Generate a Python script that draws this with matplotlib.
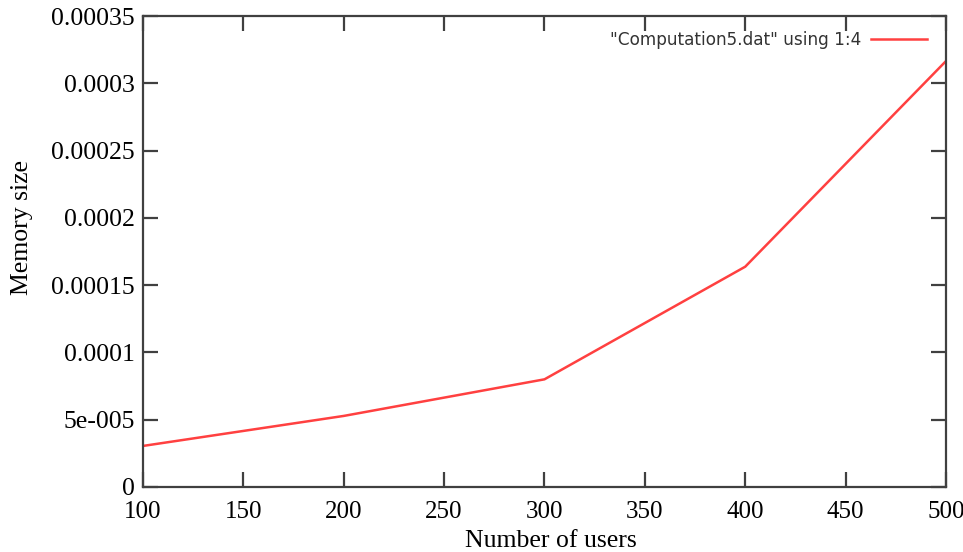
import matplotlib
matplotlib.use("Agg")
from matplotlib import pyplot as plt

users = [100, 200, 300, 400, 500]
memory = [3.05e-5, 5.28e-5, 8.0e-5, 1.637e-4, 3.165e-4]

xticks = [100, 150, 200, 250, 300, 350, 400, 450, 500]
yticks = [0, 0.00005, 0.0001, 0.00015, 0.0002, 0.00025, 0.0003, 0.00035]
ytick_labels = ["0", "5e-005", "0.0001", "0.00015", "0.0002", "0.00025", "0.0003", "0.00035"]

fig = plt.figure(figsize=(9.63, 5.52), dpi=100)
ax = fig.add_axes([0.1485, 0.1178, 0.8338, 0.8532])

ax.plot(users, memory, c="#ff4040", lw=1.8, label='"Computation5.dat" using 1:4')

ax.set_xlim(100, 500)
ax.set_ylim(0, 0.00035)
ax.set_xticks(xticks)
ax.set_xticklabels([str(t) for t in xticks])
ax.set_yticks(yticks)
ax.set_yticklabels(ytick_labels)

for s in ax.spines.values():
    s.set_color("#404040")
    s.set_linewidth(1.6)
ax.tick_params(axis="both", direction="in", length=11, width=1.6, color="#404040",
               top=True, right=True, labelsize=18.5)
ax.tick_params(axis="x", pad=10, labelsize=18)
ax.tick_params(axis="y", pad=6)
for lab in ax.get_xticklabels() + ax.get_yticklabels():
    lab.set_fontfamily("Liberation Serif")
    lab.set_color("black")

ax.set_xlabel("Number of users", fontsize=18.5, family="Liberation Serif", labelpad=5)
ax.set_ylabel("Memory size", fontsize=18.5, family="Liberation Serif")
ax.yaxis.set_label_coords(-0.137, 0.552)
ax.xaxis.label.set_x(0.508)

leg = ax.legend(loc="upper right", frameon=False, markerfirst=False, handlelength=3.3,
                handletextpad=0.6, prop={"family": "DejaVu Sans", "size": 12.2},
                borderaxespad=0.3, bbox_to_anchor=(0.991, 0.993))
for t in leg.get_texts():
    t.set_color("#333333")

fig.savefig("out.png", dpi=100)
